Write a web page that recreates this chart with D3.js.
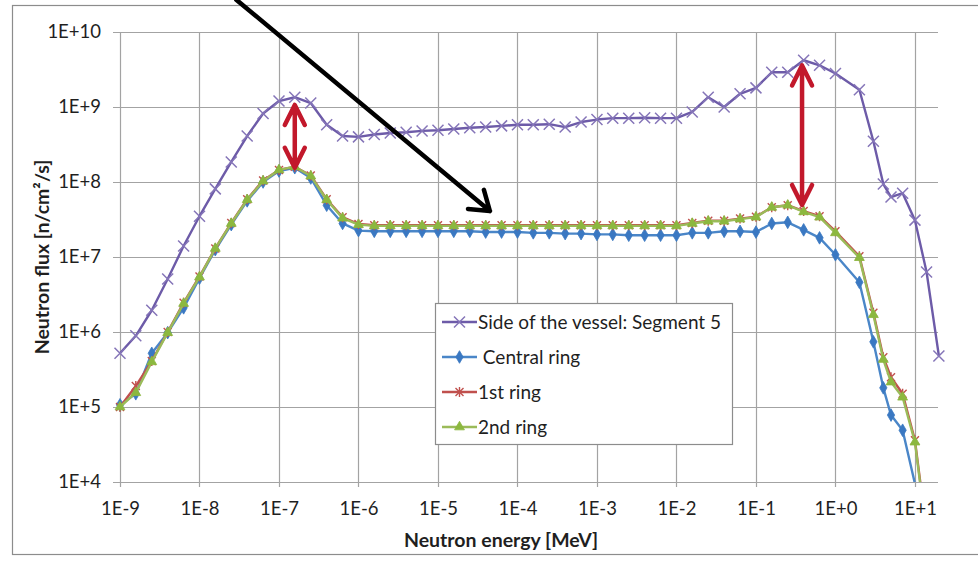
<!DOCTYPE html>
<html>
<head>
<meta charset="utf-8">
<script src="https://cdn.jsdelivr.net/npm/d3@7"></script>
<style>
    html, body { margin: 0; padding: 0; background: #fff; }
    svg { display: block; font-family: Lato, "Open Sans", sans-serif; }
</style>
</head>
<body>
<div id="chart"></div>
<script>
// energy grid [MeV]: 5 groups per decade up to 1 MeV, then the fast groups
const energies = [
    1e-9, 1.58e-9, 2.51e-9, 3.98e-9, 6.31e-9,
    1e-8, 1.58e-8, 2.51e-8, 3.98e-8, 6.31e-8,
    1e-7, 1.58e-7, 2.51e-7, 3.98e-7, 6.31e-7,
    1e-6, 1.58e-6, 2.51e-6, 3.98e-6, 6.31e-6,
    1e-5, 1.58e-5, 2.51e-5, 3.98e-5, 6.31e-5,
    1e-4, 1.58e-4, 2.51e-4, 3.98e-4, 6.31e-4,
    1e-3, 1.58e-3, 2.51e-3, 3.98e-3, 6.31e-3,
    1e-2, 1.58e-2, 2.51e-2, 3.98e-2, 6.31e-2,
    1e-1, 0.158, 0.251, 0.398, 0.631,
    1, 2, 3, 4, 5, 7, 10, 14, 20
];

const sideVessel = [
    5.2e5, 8.9e5, 1.95e6, 5.1e6, 1.4e7,
    3.5e7, 8.1e7, 1.85e8, 4.1e8, 8.2e8,
    1.2e9, 1.35e9, 1.13e9, 5.8e8, 4.1e8,
    4.0e8, 4.3e8, 4.5e8, 4.6e8, 4.8e8,
    4.9e8, 5.1e8, 5.3e8, 5.4e8, 5.6e8,
    5.8e8, 5.8e8, 5.9e8, 5.4e8, 6.3e8,
    6.8e8, 7.1e8, 7.1e8, 7.2e8, 7.1e8,
    7.1e8, 8.6e8, 1.35e9, 1.0e9, 1.5e9,
    1.8e9, 2.9e9, 2.9e9, 4.2e9, 3.6e9,
    2.8e9, 1.7e9, 3.5e8, 9.4e7, 6.3e7, 7.1e7, 3.1e7, 6.3e6, 4.8e5
];

const centralRing = [
    1.07e5, 1.5e5, 5.2e5, 9.8e5, 2.1e6,
    5.2e6, 1.25e7, 2.7e7, 5.6e7, 1.0e8,
    1.4e8, 1.55e8, 1.13e8, 4.9e7, 2.8e7,
    2.25e7, 2.2e7, 2.2e7, 2.2e7, 2.2e7,
    2.2e7, 2.2e7, 2.2e7, 2.15e7, 2.15e7,
    2.15e7, 2.1e7, 2.1e7, 2.05e7, 2.05e7,
    2.0e7, 2.0e7, 1.95e7, 1.95e7, 1.95e7,
    1.95e7, 2.1e7, 2.1e7, 2.2e7, 2.2e7,
    2.15e7, 2.8e7, 2.9e7, 2.3e7, 1.8e7,
    1.07e7, 4.6e6, 7.4e5, 1.8e5, 7.8e4, 4.9e4, 9.5e3, 1.2e3, 1.5e2
];

const firstRing = [
    1.0e5, 1.9e5, 4.1e5, 1.0e6, 2.45e6,
    5.5e6, 1.3e7, 2.85e7, 5.9e7, 1.05e8,
    1.45e8, 1.6e8, 1.22e8, 5.9e7, 3.4e7,
    2.75e7, 2.65e7, 2.65e7, 2.65e7, 2.65e7,
    2.65e7, 2.65e7, 2.65e7, 2.65e7, 2.65e7,
    2.65e7, 2.65e7, 2.65e7, 2.65e7, 2.65e7,
    2.65e7, 2.65e7, 2.65e7, 2.65e7, 2.65e7,
    2.65e7, 2.85e7, 3.05e7, 3.05e7, 3.25e7,
    3.45e7, 4.6e7, 4.9e7, 4.1e7, 3.5e7,
    2.2e7, 1.02e7, 1.8e6, 4.6e5, 2.5e5, 1.5e5, 3.6e4, 2.2e3, 1.1e2
];

const secondRing = [
    1.0e5, 1.55e5, 4.0e5, 9.8e5, 2.4e6,
    5.4e6, 1.3e7, 2.8e7, 5.8e7, 1.03e8,
    1.45e8, 1.6e8, 1.2e8, 5.8e7, 3.3e7,
    2.7e7, 2.6e7, 2.6e7, 2.6e7, 2.6e7,
    2.6e7, 2.6e7, 2.6e7, 2.6e7, 2.6e7,
    2.6e7, 2.6e7, 2.6e7, 2.6e7, 2.6e7,
    2.6e7, 2.6e7, 2.6e7, 2.6e7, 2.6e7,
    2.6e7, 2.8e7, 3.0e7, 3.0e7, 3.2e7,
    3.4e7, 4.6e7, 4.9e7, 4.0e7, 3.4e7,
    2.1e7, 9.8e6, 1.7e6, 4.3e5, 2.15e5, 1.35e5, 3.4e4, 2.0e3, 1.0e2
];

const seriesNames = ["Side of the vessel: Segment 5", " Central ring", "1st ring", "2nd ring"];
const xTicks = [1e-9, 1e-8, 1e-7, 1e-6, 1e-5, 1e-4, 1e-3, 1e-2, 1e-1, 1e0, 1e1];
const yTicks = [1e4, 1e5, 1e6, 1e7, 1e8, 1e9, 1e10];

// annotation arrows, in data units [energy, flux]
const gapArrows = [
    [[1.58e-7, 1.1e9], [1.58e-7, 1.5e8]],
    [[0.38, 3.7e9], [0.38, 4.8e7]]
];
const pointerArrow = [[2.9e-8, 2.7e10], [4.5e-5, 4.1e7]];

function Render() {
    const width = 978, height = 565;
    const plot = { left: 120, right: 938, top: 32, bottom: 482 };

    let svg = d3.select("#chart")
        .append("svg")
        .attr("width", width)
        .attr("height", height);

    svg.append("rect")
        .attr("x", 12.5).attr("y", 5.5)
        .attr("width", 1000).attr("height", 549)
        .attr("fill", "#fff")
        .attr("stroke", "#8c8c8c")
        .attr("stroke-width", 1.2);

    let x = d3.scaleLog().domain([1e-9, Math.pow(10, 1.29)]).range([plot.left, plot.right]);
    let y = d3.scaleLog().domain([1e4, 1e10]).range([plot.bottom, plot.top]);

    let fmt = d => {
        let e = Math.round(Math.log10(d));
        return "1E" + (e >= 0 ? "+" + e : e);
    };

    // grid lines
    let grid = svg.append("g").attr("class", "grids");
    grid.selectAll(".h").data(yTicks).join("line")
        .attr("x1", plot.left - 7).attr("x2", plot.right)
        .attr("y1", d => Math.round(y(d)) + 0.5).attr("y2", d => Math.round(y(d)) + 0.5)
        .attr("stroke", "#a3a3a3").attr("stroke-width", 1.2);
    grid.selectAll(".v").data(xTicks).join("line")
        .attr("x1", d => Math.round(x(d)) + 0.5).attr("x2", d => Math.round(x(d)) + 0.5)
        .attr("y1", plot.top).attr("y2", plot.bottom + 5)
        .attr("stroke", "#a3a3a3").attr("stroke-width", 1.2);

    let yAxis = svg.append("g")
        .attr("transform", `translate(${plot.left},0)`)
        .call(d3.axisLeft(y).tickValues(yTicks).tickFormat(fmt).tickSize(7).tickPadding(12));
    let xAxis = svg.append("g")
        .attr("transform", `translate(0,${plot.bottom})`)
        .call(d3.axisBottom(x).tickValues(xTicks).tickFormat(fmt).tickSize(5).tickPadding(15));
    [yAxis, xAxis].forEach(a => {
        a.select(".domain").remove();
        a.selectAll(".tick line").remove();
        a.selectAll("text")
            .attr("fill", "#1f1f1f")
            .style("font-size", "18.5px")
            .style("font-family", "Lato, sans-serif");
    });

    svg.append("text")
        .attr("transform", `translate(42,${(plot.top + plot.bottom) / 2}) rotate(-90)`)
        .attr("text-anchor", "middle")
        .attr("dy", "0.35em")
        .attr("fill", "#1f1f1f")
        .style("font-size", "19.5px")
        .style("font-weight", "bold")
        .text("Neutron flux [n/cm²/s]");

    svg.append("text")
        .attr("x", 501).attr("y", 540)
        .attr("text-anchor", "middle")
        .attr("dy", "0.35em")
        .attr("fill", "#1f1f1f")
        .style("font-size", "19.5px")
        .style("font-weight", "bold")
        .text("Neutron energy [MeV]");

    svg.append("clipPath").attr("id", "plotclip")
        .append("rect")
        .attr("x", plot.left - 10).attr("y", plot.top)
        .attr("width", plot.right - plot.left + 30)
        .attr("height", plot.bottom - plot.top);

    let series = [
        { name: seriesNames[0], values: sideVessel, color: "#6d5ba8", markColor: "#8575b8", marker: "x" },
        { name: seriesNames[1], values: centralRing, color: "#4a86c8", markColor: "#3a78c2", marker: "diamond" },
        { name: seriesNames[2], values: firstRing, color: "#c0504d", markColor: "#c0504d", marker: "star" },
        { name: seriesNames[3], values: secondRing, color: "#9bbb59", markColor: "#8cb83f", marker: "triangle" }
    ];

    let line = d3.line()
        .x(d => x(d[0]))
        .y(d => y(d[1]));

    let plotG = svg.append("g").attr("clip-path", "url(#plotclip)");

    series.forEach(s => {
        let pts = energies.map((e, i) => [e, s.values[i]]);
        let g = plotG.append("g");
        g.append("path")
            .attr("d", line(pts))
            .attr("fill", "none")
            .attr("stroke", s.color)
            .attr("stroke-width", 2.4)
            .attr("stroke-linejoin", "round");
        let shown = pts.filter(p => p[1] >= 1e4);
        shown.forEach(p => DrawMarker(g, s, x(p[0]), y(p[1])));
    });

    // legend
    let legend = svg.append("g").attr("transform", "translate(435,303)");
    legend.append("rect")
        .attr("x", 0.5).attr("y", 0.5)
        .attr("width", 297).attr("height", 141)
        .attr("fill", "#fff")
        .attr("stroke", "#8c8c8c")
        .attr("stroke-width", 1.2);
    series.forEach((s, i) => {
        let cy = 19 + i * 35;
        legend.append("line")
            .attr("x1", 7).attr("x2", 42)
            .attr("y1", cy).attr("y2", cy)
            .attr("stroke", s.color).attr("stroke-width", 2.4);
        DrawMarker(legend, s, 24.5, cy);
        legend.append("text")
            .attr("x", 43).attr("y", cy)
            .attr("dy", "0.35em")
            .attr("fill", "#1f1f1f")
            .style("font-size", "19px")
            .style("white-space", "pre")
            .text(s.name);
    });

    // annotations
    let notes = svg.append("g");
    gapArrows.forEach(a => {
        let x0 = x(a[0][0]), yTop = y(a[0][1]), yBot = y(a[1][1]);
        notes.append("path")
            .attr("d", `M${x0},${yTop + 3}L${x0},${yBot - 3}` +
                `M${x0 - 10},${yTop + 21}L${x0},${yTop + 1}L${x0 + 10},${yTop + 21}` +
                `M${x0 - 10},${yBot - 21}L${x0},${yBot - 1}L${x0 + 10},${yBot - 21}`)
            .attr("fill", "none")
            .attr("stroke", "#c2182b")
            .attr("stroke-width", 4.5)
            .attr("stroke-linecap", "round")
            .attr("stroke-linejoin", "round");
    });

    let p0 = [x(pointerArrow[0][0]), y(pointerArrow[0][1])];
    let p1 = [x(pointerArrow[1][0]), y(pointerArrow[1][1])];
    let ang = Math.atan2(p1[1] - p0[1], p1[0] - p0[0]);
    let head = 22, spread = 0.6;
    let w1 = [p1[0] - head * Math.cos(ang - spread), p1[1] - head * Math.sin(ang - spread)];
    let w2 = [p1[0] - head * Math.cos(ang + spread), p1[1] - head * Math.sin(ang + spread)];
    notes.append("path")
        .attr("d", `M${p0[0]},${p0[1]}L${p1[0]},${p1[1]}M${w1[0]},${w1[1]}L${p1[0]},${p1[1]}L${w2[0]},${w2[1]}`)
        .attr("fill", "none")
        .attr("stroke", "#000")
        .attr("stroke-width", 4.5)
        .attr("stroke-linecap", "round")
        .attr("stroke-linejoin", "round");
}

function DrawMarker(g, s, cx, cy) {
    if (s.marker == "x") {
        g.append("path")
            .attr("d", `M${cx - 5.5},${cy - 5.5}L${cx + 5.5},${cy + 5.5}M${cx - 5.5},${cy + 5.5}L${cx + 5.5},${cy - 5.5}`)
            .attr("stroke", s.markColor)
            .attr("stroke-width", 1.5)
            .attr("fill", "none");
    }
    else if (s.marker == "star") {
        g.append("path")
            .attr("d", `M${cx - 4},${cy - 4}L${cx + 4},${cy + 4}M${cx - 4},${cy + 4}L${cx + 4},${cy - 4}M${cx},${cy - 5}L${cx},${cy + 5}`)
            .attr("stroke", s.markColor)
            .attr("stroke-width", 1.4)
            .attr("fill", "none");
    }
    else {
        let sym = s.marker == "diamond" ? d3.symbolDiamond : d3.symbolTriangle;
        g.append("path")
            .attr("transform", `translate(${cx},${cy})`)
            .attr("d", d3.symbol().type(sym).size(s.marker == "diamond" ? 46 : 42)())
            .attr("fill", s.markColor)
            .attr("stroke", s.markColor)
            .attr("stroke-width", 0.8);
    }
}

Render();
</script>
</body>
</html>
